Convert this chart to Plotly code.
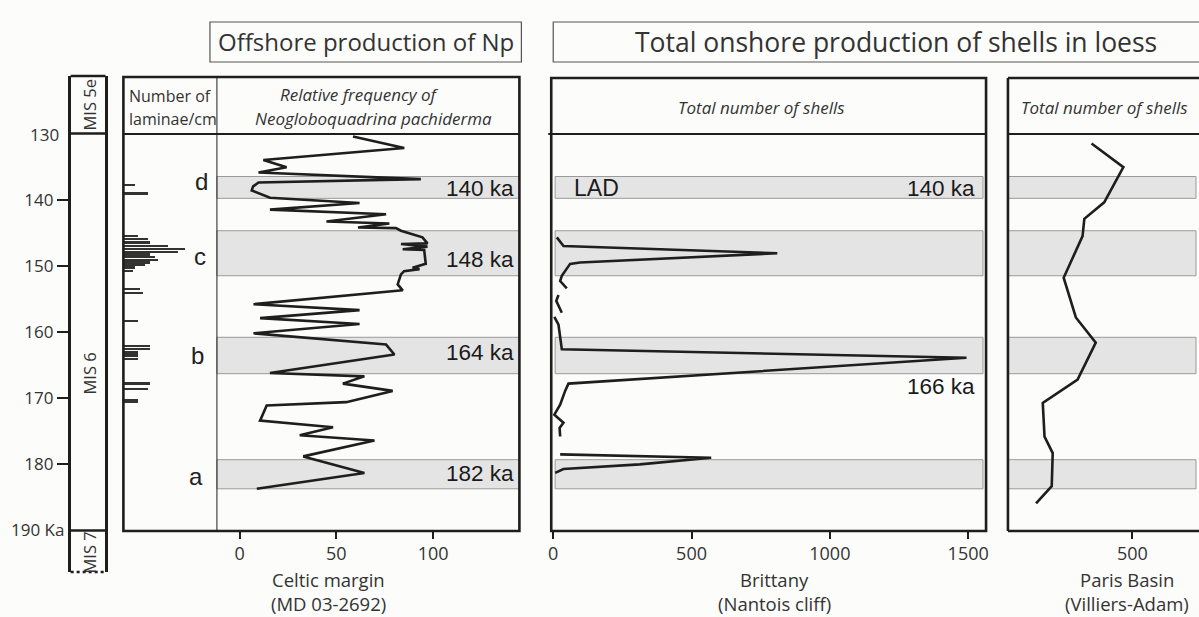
import plotly.graph_objects as go

W, H = 1199, 617

# ---------------- data ----------------
age_ticks = [140, 150, 160, 170, 180]

mis_labels = ["MIS 5e", "MIS 6", "MIS 7"]
mis_bounds = [130, 190]

band_letters = ["d", "c", "b", "a"]
band_top = [136.5, 144.7, 160.8, 179.3]
band_bot = [139.8, 151.5, 166.3, 183.7]
band_labels = ["140 ka", "148 ka", "164 ka", "182 ka"]

# laminae per cm (age ka, count)
lam_age = [137.7, 139.0, 145.4, 145.9, 146.4, 146.9, 147.4, 147.8, 148.2, 148.6,
           149.0, 149.4, 149.8, 150.2, 150.7, 153.4, 154.0, 158.3, 162.0, 162.5,
           163.0, 163.5, 164.0, 167.7, 168.5, 170.2, 170.5]
lam_val = [2.5, 5, 3, 5, 5.5, 9, 12.5, 11, 5.5, 6.5,
           7, 5.5, 4.5, 2.5, 2, 3.5, 4, 3, 5.5, 5.5,
           3, 3, 3, 5.5, 5, 3, 3]

# Relative frequency of N. pachyderma (%)
np_age = [130.45, 132.2, 134.0, 135.1, 135.9, 136.9, 137.4, 138.0, 138.6, 139.7,
          140.5, 141.5, 142.2, 143.3, 143.6, 144.2, 144.3, 144.7, 145.7, 146.6,
          146.7, 147.1, 147.5, 147.6, 149.7, 150.3, 150.5, 150.8, 151.3, 152.8,
          153.7, 155.8, 156.7, 157.9, 158.8, 160.2, 161.9, 163.4, 166.2, 166.7,
          167.8, 168.9, 170.6, 171.1, 173.4, 174.4, 175.6, 176.4, 178.8, 181.3,
          183.7]
np_val = [58.6, 85.1, 12.3, 24.3, 9.8, 93.7, 9.8, 7.0, 6.3, 15.7,
          62.0, 15.7, 75.7, 44.9, 77.4, 61.2, 80.8, 83.4, 94.5, 97.1,
          83.4, 97.1, 84.3, 95.4, 96.2, 89.4, 93.0, 85.0, 83.4, 81.7,
          84.3, 7.2, 62.0, 10.6, 62.0, 7.2, 75.7, 80.0, 15.7, 64.5,
          53.4, 79.1, 55.1, 14.0, 10.6, 48.3, 31.1, 69.7, 32.9, 64.5,
          8.9]

# Brittany (Nantois cliff) total number of shells
brit_age = [145.7, 147.0, 148.1, 149.5, 149.7, 151.5, 152.3, 153.4, None,
            154.4, 155.3, 157.1, None,
            157.7, 158.9, 162.6, 163.9, 167.8, 168.9, 171.0, 172.5, 173.7, 174.5, 175.8, None,
            178.5, 179.0, 180.0, 180.7, 181.3]
brit_val = [13, 37, 810, 97, 61, 31, 25, 49, None,
            19, 11, 31, None,
            4, 19, 31, 1494, 55, 43, 25, 4, 37, 23, 25, None,
            25, 571, 313, 37, 7]

# Paris Basin (Villiers-Adam) total number of shells
paris_age = [131.5, 135.1, 140.4, 142.9, 145.5, 151.8, 157.8, 161.6, 167.2, 170.7,
             175.8, 178.3, 183.3, 185.9]
paris_val = [336, 464, 387, 307, 300, 224, 273, 353, 280, 140,
             147, 180, 176, 113]

np_ticks = [0, 50, 100]
brit_ticks = [0, 500, 1000, 1500]
paris_ticks = [500]

# ---------------- helpers ----------------
def px(x):
    return x / W


def py(y):
    return 1 - y / H


FONT = "Open Sans"
ARIAL = "Liberation Sans"
INK = "#1e1e1e"
TXT = "#333333"
BAND_FILL = "#e4e4e4"
BAND_LINE = "#9a9a9a"

ydom = [py(530.5), py(133.5)]
age_range = [190, 130]

fig = go.Figure()

fig.add_trace(go.Bar(x=lam_val, y=lam_age, orientation="h", width=0.36,
                     marker=dict(color="#333333", line=dict(width=0)),
                     xaxis="x", yaxis="y", hoverinfo="skip"))
fig.add_trace(go.Scatter(x=np_val, y=np_age, mode="lines",
                         line=dict(color=INK, width=2.6),
                         xaxis="x2", yaxis="y2", hoverinfo="skip"))
fig.add_trace(go.Scatter(x=brit_val, y=brit_age, mode="lines", connectgaps=False,
                         line=dict(color=INK, width=2.6),
                         xaxis="x3", yaxis="y3", hoverinfo="skip"))
fig.add_trace(go.Scatter(x=paris_val, y=paris_age, mode="lines",
                         line=dict(color=INK, width=2.6),
                         xaxis="x4", yaxis="y4", hoverinfo="skip"))
# invisible trace to hold MIS axis
fig.add_trace(go.Scatter(x=[0], y=[160], mode="markers", marker=dict(opacity=0),
                         xaxis="x5", yaxis="y5", hoverinfo="skip"))

hidden_y = dict(range=age_range, domain=ydom, showgrid=False, zeroline=False,
                showticklabels=False, ticks="", showline=False)
tick_x = dict(showgrid=False, zeroline=False, showline=False, ticks="outside",
              ticklen=7, tickwidth=2, tickcolor=INK,
              tickfont=dict(family=FONT, size=18, color=TXT))

fig.update_layout(
    width=W, height=H,
    margin=dict(l=0, r=0, t=0, b=0),
    paper_bgcolor="#fcfcfa", plot_bgcolor="rgba(0,0,0,0)",
    showlegend=False,
    font=dict(family=FONT, color=TXT),
    bargap=0,
    xaxis=dict(domain=[px(121), px(215)], range=[0, 18.8], anchor="y",
               showgrid=False, zeroline=False, showticklabels=False, ticks="", showline=False),
    yaxis=dict(anchor="x", **hidden_y),
    xaxis2=dict(domain=[px(215), px(519)], range=[-11.7, 144.6], anchor="y2",
                tickvals=np_ticks, **tick_x),
    yaxis2=dict(anchor="x2", **hidden_y),
    xaxis3=dict(domain=[px(551), px(988)], range=[-7.2, 1564.7], anchor="y3",
                tickvals=brit_ticks, **tick_x),
    yaxis3=dict(anchor="x3", **hidden_y),
    xaxis4=dict(domain=[px(1010), 1], range=[0, 756], anchor="y4",
                tickvals=paris_ticks, **tick_x),
    yaxis4=dict(anchor="x4", **hidden_y),
    xaxis5=dict(domain=[px(68), px(103)], range=[0, 1], anchor="y5", visible=False),
    yaxis5=dict(domain=[py(572), py(76)], range=[196.27, 121.31], anchor="x5",
                tickvals=age_ticks, ticktext=[str(a) for a in age_ticks],
                ticks="outside", ticklen=11, tickwidth=2.2, tickcolor=INK,
                showline=True, linewidth=2.6, linecolor=INK, mirror=True,
                showgrid=False, zeroline=False,
                tickfont=dict(family=FONT, size=17, color=TXT)),
)

shapes = []
# bands
panel_band_x = {"x2": (0, 1), "x3": (0.009, 0.993), "x4": (0, 1)}
for xr, (bx0, bx1) in panel_band_x.items():
    yr = "y" + xr[1:]
    for t, b in zip(band_top, band_bot):
        shapes.append(dict(type="rect", xref=xr + " domain", yref=yr,
                           x0=bx0, x1=bx1, y0=t, y1=b, layer="below",
                           fillcolor=BAND_FILL, line=dict(color=BAND_LINE, width=1)))


def line(x0, y0, x1, y1, w=2.6, color=INK, dash="solid"):
    shapes.append(dict(type="line", xref="paper", yref="paper",
                       x0=px(x0), y0=py(y0), x1=px(x1), y1=py(y1),
                       line=dict(color=color, width=w, dash=dash)))


def rect(x0, y0, x1, y1, w=2.6, color=INK):
    shapes.append(dict(type="rect", xref="paper", yref="paper",
                       x0=px(x0), y0=py(y0), x1=px(x1), y1=py(y1),
                       line=dict(color=color, width=w)))


# offshore frame
rect(121, 77, 519, 531)
line(121, 134, 519, 134, w=2.2)
line(215, 77, 215, 531, w=1)
# Brittany frame
rect(551, 78, 988, 531)
line(548, 134, 988, 134, w=2.2)
# Paris frame
line(1010, 78, 1010, 531)
line(1010, 78, 1205, 78)
line(1010, 134, 1205, 134, w=2.2)
line(1010, 531, 1205, 531)
# title boxes
rect(208, 22, 521, 62, w=1.2, color="#555555")
rect(553, 22, 1210, 62, w=1.2, color="#555555")
# MIS column boundaries
shapes.append(dict(type="line", xref="x5 domain", yref="paper", x0=0, x1=1,
                   y0=py(76), y1=py(76), line=dict(color=INK, width=2.6)))
for bnd in mis_bounds:
    shapes.append(dict(type="line", xref="x5 domain", yref="y5", x0=0, x1=1,
                       y0=bnd, y1=bnd, line=dict(color=INK, width=2.4)))
shapes.append(dict(type="line", xref="x5 domain", yref="paper", x0=0, x1=1,
                   y0=py(572), y1=py(572), line=dict(color=INK, width=2.4, dash="dot")))

fig.update_layout(shapes=shapes)

ann = []


def text(x, y, s, size=16, family=FONT, xanchor="center", color=TXT, italic=False, angle=0):
    ann.append(dict(xref="paper", yref="paper", x=px(x), y=py(y), text=s,
                    showarrow=False, xanchor=xanchor, yanchor="middle",
                    textangle=angle,
                    font=dict(family=family, size=size, color=color,
                              style="italic" if italic else "normal")))


# titles
text(365, 42, "Offshore production of Np", size=24)
text(897, 42, "Total onshore production of shells in loess", size=26.5)
# headers
text(125, 96, "Number of", size=16, xanchor="left")
text(125, 119, "laminae/cm", size=16, xanchor="left")
text(358, 95, "Relative frequency of", size=17, italic=True)
text(372, 119, "Neogloboquadrina pachiderma", size=17, italic=True)
text(762, 108, "Total number of shells", size=17, italic=True)
text(1107, 108, "Total number of shells", size=17, italic=True)
# age labels not drawn by ticks
text(58, 134, "130", size=17, xanchor="right")
text(63, 529, "190 Ka", size=17, xanchor="right")
# MIS names
text(86, 105, mis_labels[0], size=16.5, angle=-90)
text(86, 374, mis_labels[1], size=16.5, angle=-90)
text(86, 553, mis_labels[2], size=16.5, angle=-90)
# band letters and labels (Np panel)
letter_y = [181, 256, 355, 476]
label_y = [188, 259, 352, 473]
letter_x = [199, 198, 195, 194]
for lx, ly, lt in zip(letter_x, letter_y, band_letters):
    text(lx, ly, lt, size=24, family=ARIAL, color="#222222")
for ly, lb in zip(label_y, band_labels):
    text(516, ly, lb, size=22.5, family=ARIAL, xanchor="right", color="#1a1a1a")
# Brittany labels
text(572, 188, "LAD", size=23, family=ARIAL, xanchor="left", color="#1a1a1a")
text(979, 188, "140 ka", size=22.5, family=ARIAL, xanchor="right", color="#1a1a1a")
text(979, 386, "166 ka", size=22.5, family=ARIAL, xanchor="right", color="#1a1a1a")
# site labels
text(327, 579, "Celtic margin", size=18.5)
text(327, 603, "(MD 03-2692)", size=18.5)
text(775, 579, "Brittany", size=18.5)
text(775, 603, "(Nantois cliff)", size=18.5)
text(1130, 579, "Paris Basin", size=18.5)
text(1130, 603, "(Villiers-Adam)", size=18.5)

fig.update_layout(annotations=ann)

fig.write_html("out.html",
               config={"displayModeBar": False},
               post_script="document.body.style.margin='0';document.body.style.overflow='hidden';")
